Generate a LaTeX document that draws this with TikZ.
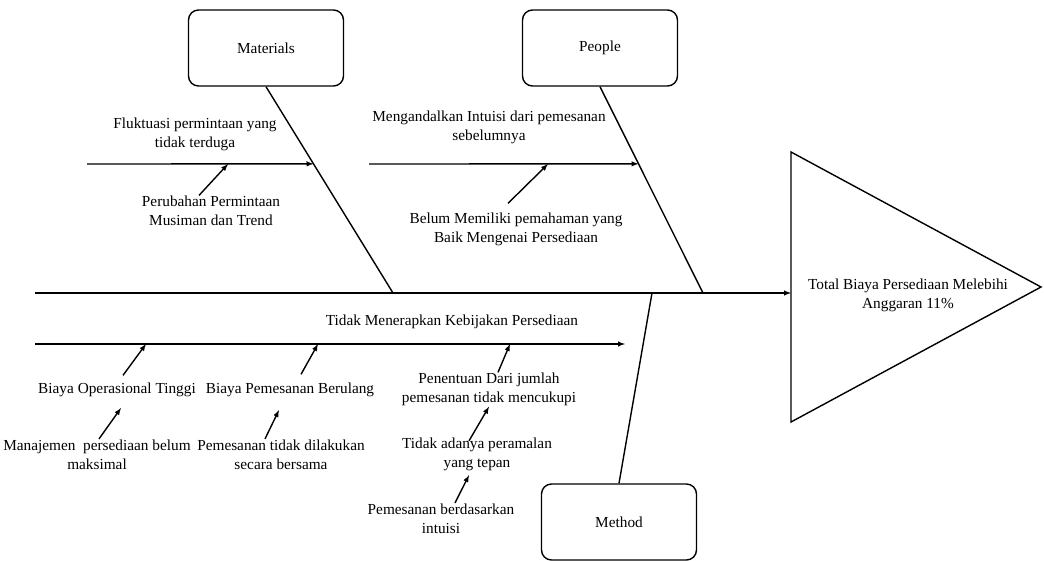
\documentclass[tikz,border=0pt]{standalone}
\usepackage{fontspec}
\setmainfont{Liberation Serif}
\usetikzlibrary{shapes.geometric, calc}

\begin{document}
\begin{tikzpicture} [
        x=1pt, y=-1pt,
        font=\fontsize{15.3}{19}\selectfont,
        line width=1.4pt,
        category/.style={draw, rounded corners=10pt, minimum width=155, minimum height=76, inner sep=0},
        c/.style={align=center, inner sep=0},
        cause/.style={-latex}
    ]

\useasboundingbox (0,0) rectangle (1044,560);

% head and categories
\node[draw, isosceles triangle, isosceles triangle stretches, shape border rotate=0,
      minimum width=270, minimum height=250, inner sep=0, outer sep=0, anchor=apex] (effect) at (1041,287) {};
\node[c] (effect text) at (908,295) {Total Biaya Persediaan Melebihi\\Anggaran 11\%};

\node[category] (materials) at (266,48) {Materials};
\node[category] (people) at (600,48) {People};
\node[category] (method) at (619,522) {Method};

% spine and bones
\coordinate (spine tail) at (35,293);
\draw[cause] (spine tail) -- (spine tail -| effect.west);

\coordinate (materials foot) at (393,293);
\coordinate (people foot) at (703,293);
\coordinate (method foot) at (652,293);
\draw (materials.south) -- (materials foot) coordinate[pos=0.374] (materials tip);
\draw (people.south) -- (people foot) coordinate[pos=0.374] (people tip);
\draw (method.north) -- (method foot);

% materials
\coordinate (materials tail) at (87,164);
\draw[cause] (materials tail) -- (materials tip);
\node[c] (fluktuasi) at (195,134) {Fluktuasi permintaan yang\\tidak terduga};
\node[c] (perubahan) at (211,211) {Perubahan Permintaan\\Musiman dan Trend};
\coordinate (perubahan tip) at (228,164);
\draw[cause] ([xshift=-12pt]perubahan.north) -- (perubahan tip);

% people
\coordinate (people tail) at (369,164);
\draw[cause] (people tail) -- (people tip);
\node[c] (mengandalkan) at (489,127) {Mengandalkan Intuisi dari pemesanan\\sebelumnya};
\node[c] (belum) at (516,229.5) {Belum Memiliki pemahaman yang\\Baik Mengenai Persediaan};
\coordinate (belum tip) at (548,164);
\draw[cause] ([xshift=-8pt, yshift=9pt]belum.north) -- (belum tip);

% method
\coordinate (method tail) at (35,344);
\coordinate (method tip) at (625,344);
\draw[cause] (method tail) -- (method tip);
\node[c] (menerapkan) at (452,322) {Tidak Menerapkan Kebijakan Persediaan};

\node[c] (biaya op) at (117,390) {Biaya Operasional Tinggi};
\node[c] (manajemen) at (97,454.5) {Manajemen\ \ persediaan belum\\maksimal};
\node[c] (biaya pesan) at (290,390) {Biaya Pemesanan Berulang};
\node[c] (bersama) at (281,454.5) {Pemesanan tidak dilakukan\\secara bersama};
\node[c] (penentuan) at (489,389.5) {Penentuan Dari jumlah\\pemesanan tidak mencukupi};
\node[c] (peramalan) at (477,454) {Tidak adanya peramalan\\yang tepan};
\node[c] (intuisi) at (441,518.5) {Pemesanan berdasarkan\\intuisi};

\coordinate (biaya op tip) at (146,344);
\coordinate (biaya pesan tip) at (318,344);
\coordinate (penentuan tip) at (510,344);
\draw[cause] ([xshift=6pt, yshift=7pt]biaya op.north) -- (biaya op tip);
\draw[cause] ([xshift=11pt, yshift=8pt]biaya pesan.north) -- (biaya pesan tip);
\draw[cause] ([xshift=9pt]penentuan.north) -- (penentuan tip);

\coordinate (manajemen tip) at (121,408);
\coordinate (bersama tip) at (279,410);
\draw[cause] ([xshift=2pt]manajemen.north) -- (manajemen tip);
\draw[cause] ([xshift=-16pt]bersama.north) -- (bersama tip);
\draw[cause] ([xshift=-8pt, yshift=-4pt]peramalan.north) -- (penentuan.south);
\draw[cause] ([xshift=14pt]intuisi.north) -- ([xshift=-8pt, yshift=-4pt]peramalan.south);

\end{tikzpicture}
\end{document}
